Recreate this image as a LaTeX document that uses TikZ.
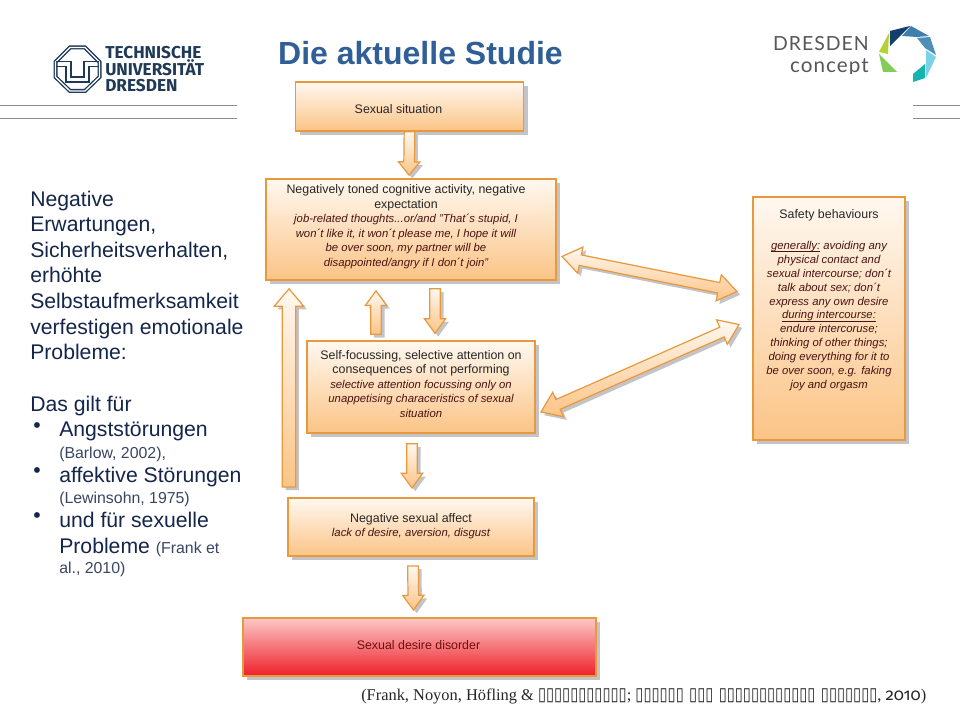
\documentclass[tikz,border=0pt]{standalone}
\usepackage{graphicx}
\usepackage{fontspec}
\setmainfont{Liberation Sans}
\newfontfamily\footserif{Liberation Serif}
\newfontfamily\boxglyph{DejaVu Sans}
\newfontfamily\logofont{Fira Sans}
\newfontfamily\conceptfont[LetterSpace=5]{Lato}
\newfontfamily\oldnum[Numbers=OldStyle]{Fira Sans}
\usetikzlibrary{calc,shadows}
\definecolor{boxtop}{HTML}{FFF8F0}
\definecolor{boxbot}{HTML}{FBC486}
\definecolor{boxedge}{HTML}{E8993E}
\definecolor{shadowgrey}{HTML}{C4C4C8}
\definecolor{titleblue}{HTML}{2F5F96}
\definecolor{navy}{HTML}{14264A}
\definecolor{navysmall}{HTML}{3A4662}
\definecolor{itbrown}{HTML}{4A1212}
\definecolor{tunavy}{HTML}{1E3A58}
\definecolor{redtop}{HTML}{FBC8C8}
\definecolor{redbot}{HTML}{EE2028}
\definecolor{dcA}{HTML}{123F70}
\definecolor{dcB}{HTML}{3F7FAE}
\definecolor{dcC}{HTML}{4D8FB8}
\definecolor{dcD}{HTML}{7CD0E8}
\definecolor{dcE}{HTML}{14B4B0}
\definecolor{dcF}{HTML}{B4D234}
\definecolor{dcG}{HTML}{84CC58}
\tikzset{
  boxnode/.style={draw=boxedge,line width=1.3pt,top color=boxtop,bottom color=boxbot,
    drop shadow={shadow xshift=3pt,shadow yshift=-3pt,fill=shadowgrey,opacity=1},inner sep=0pt,outer sep=0pt},
  redbox/.style={boxnode,top color=redtop,bottom color=redbot},
  boxtext/.style={align=center,inner sep=0pt,text=black!85,font=\fontsize{9.3}{10.9}\selectfont},
  lefttext/.style={align=left,anchor=north west,inner sep=0pt,text=navy,font=\fontsize{15.9}{19.2}\selectfont},
  smalltext/.style={lefttext,text=navysmall,font=\fontsize{11.9}{13}\selectfont},
  arrowbody/.style={draw=boxedge,line width=.9pt,line join=miter,top color=boxtop,bottom color=boxbot},
  arrowshade/.style={fill=shadowgrey,draw=none,transform canvas={xshift=2.4pt,yshift=-2.4pt}},
  rulegrey/.style={draw=black!45,line width=.7pt},
  tuline/.style={draw=tunavy,line width=1pt},
  logotext/.style={anchor=west,align=left,inner sep=0pt,text=tunavy,font=\logofont\bfseries\fontsize{12.9}{11.9}\selectfont},
  dctext/.style={inner sep=0pt,text=black!66,font=\conceptfont\fontsize{14.6}{15}\selectfont},
}
\newcommand{\itx}[1]{{\itshape\color{itbrown}\fontsize{8.5}{10.9}\selectfont #1}}
\newcommand{\glyphrun}[1]{\scalebox{1}[1.25]{\boxglyph\fontsize{11}{12}\selectfont #1}}
% block arrow: start, end, half shaft, half head, head length
\newcommand{\blockarrow}[5]{%
  \coordinate (hd) at ($(#2)!#5!(#1)$);
  \foreach \stylename in {arrowshade,arrowbody}{%
    \path[\stylename] ($(#1)!#3!90:(#2)$) -- ($(hd)!#3!90:(#2)$) -- ($(hd)!#4!90:(#2)$) -- (#2)
      -- ($(hd)!#4!-90:(#2)$) -- ($(hd)!#3!-90:(#2)$) -- ($(#1)!#3!-90:(#2)$) -- cycle;}}
\newcommand{\doublearrow}[5]{%
  \coordinate (hd) at ($(#2)!#5!(#1)$);
  \coordinate (he) at ($(#1)!#5!(#2)$);
  \foreach \stylename in {arrowshade,arrowbody}{%
    \path[\stylename] (#1) -- ($(he)!#4!90:(#2)$) -- ($(he)!#3!90:(#2)$) -- ($(hd)!#3!90:(#2)$) -- ($(hd)!#4!90:(#2)$) -- (#2)
      -- ($(hd)!#4!-90:(#2)$) -- ($(hd)!#3!-90:(#2)$) -- ($(he)!#3!-90:(#2)$) -- ($(he)!#4!-90:(#2)$) -- cycle;}}
\begin{document}
\begin{tikzpicture}[x=.75pt,y=-.75pt]
\useasboundingbox (0,0) rectangle (960,720);
\fill[white] (0,0) rectangle (960,720);

% rules
\draw[rulegrey] (0,105.5) -- (237,105.5);
\draw[rulegrey] (0,118.5) -- (237,118.5);
\draw[rulegrey] (913,105.5) -- (960,105.5);
\draw[rulegrey] (913,118.5) -- (960,118.5);

% TU logo
\draw[tunavy,line width=3pt] (55.5,62) -- (70,47.5) -- (85,47.5) -- (99.5,62) -- (99.5,77) -- (85,91) -- (70,91) -- (55.5,77) -- cycle;
\draw[white,line width=1pt] (55.5,62) -- (70,47.5) -- (85,47.5) -- (99.5,62) -- (99.5,77) -- (85,91) -- (70,91) -- (55.5,77) -- cycle;
\draw[tuline] (56,61.5) -- (71,61.5) -- (71,77) -- (84,77) -- (84,61.5) -- (99,61.5);
\draw[tuline] (56,66.5) -- (66,66.5) -- (66,82) -- (89,82) -- (89,66.5) -- (99,66.5);
\node[logotext] (tu) at (105,69) {TECHNISCHE\\UNIVERSITÄT\\DRESDEN};

% title
\node[inner sep=0pt,text=titleblue,font=\bfseries\fontsize{24}{26}\selectfont] (title) at (420.5,53) {Die aktuelle Studie};

% Dresden concept logo
\node[dctext,anchor=base east] (dc1) at (869,51) {DRESDEN};
\begin{scope}
\clip (780,50) rectangle (880,74);
\node[dctext,anchor=base east,font=\conceptfont\fontsize{15.5}{16}\selectfont] (dc2) at (869,73) {concept};
\end{scope}
\fill[dcA] (890,31) -- (910,26) -- (890,46) -- cycle;
\fill[dcB] (911,26) -- (929,36) -- (917,37) -- (902,36) -- cycle;
\fill[dcC] (917,38) -- (930,37) -- (936,55) -- (925,48) -- cycle;
\fill[dcD] (926,50) -- (936,57) -- (926,78) -- cycle;
\fill[dcE] (925,64) -- (925,78) -- (913,82) -- (913,74) -- cycle;
\fill[dcF] (889,33) -- (879,52) -- (888,54) -- cycle;
\fill[dcG] (879,54) -- (897,72) -- (883,72) -- cycle;

% left text
\node[lefttext] (neg) at (30,190.5) {Negative\\Erwartungen,\\Sicherheitsverhalten,\\erhöhte\\Selbstaufmerksamkeit\\verfestigen emotionale\\Probleme:};
\node[lefttext] (gilt) at (30,396) {Das gilt für};
\node[lefttext] (b1) at (33,422) {•};
\node[lefttext] (i1) at (59,422) {Angststörungen};
\node[smalltext] (s1) at (59,447) {(Barlow, 2002),};
\node[lefttext] (b2) at (33,467) {•};
\node[lefttext] (i2) at (59,467) {affektive Störungen};
\node[smalltext] (s2) at (59,491.5) {(Lewinsohn, 1975)};
\node[lefttext] (b3) at (33,512) {•};
\node[lefttext] (i3) at (59,512) {und für sexuelle\\Probleme {\color{navysmall}\fontsize{11.9}{13}\selectfont(Frank et}};
\node[smalltext] (s3) at (59,561.5) {al., 2010)};

% boxes
\node[boxnode,minimum width=171pt,minimum height=36.5pt] (situation) at (409.5,106.5) {};
\node[boxnode,minimum width=217.5pt,minimum height=75.5pt] (cognitive) at (411,229.5) {};
\node[boxnode,minimum width=171pt,minimum height=68.5pt] (selffocus) at (421,387) {};
\node[boxnode,minimum width=184.5pt,minimum height=43.5pt] (affect) at (411,527) {};
\node[redbox,minimum width=264.5pt,minimum height=43.5pt] (disorder) at (419.5,647) {};
\node[boxnode,minimum width=114pt,minimum height=182pt] (safety) at (829,318.5) {};

% box texts
\node[boxtext] (t1) at ($(situation.center)+(-11,3)$) {Sexual situation};
\node[boxtext] (t2) at ($(cognitive.center)+(-5,-3)$) {Negatively toned cognitive activity, negative\\expectation\\\itx{job-related thoughts...or/and "That´s stupid, I}\\\itx{won´t like it, it won´t please me, I hope it will}\\\itx{be over soon, my partner will be}\\\itx{disappointed/angry if I don´t join"}};
\node[boxtext] (t3) at ($(selffocus.center)+(0,-3)$) {Self-focussing, selective attention on\\consequences of not performing\\\itx{selective attention focussing only on}\\\itx{unappetising characeristics of sexual}\\\itx{situation}};
\node[boxtext] (t4) at ($(affect.center)+(0,-1)$) {Negative sexual affect\\\itx{lack of desire, aversion, disgust}};
\node[boxtext,text=itbrown!80!red] (t5) at ($(disorder.center)+(-1,-2)$) {Sexual desire disorder};
\node[boxtext,anchor=north,font=\fontsize{9.3}{10.4}\selectfont] (t6) at ($(safety.north)+(0,12)$) {Safety behaviours\\[13pt]\itx{\underline{\smash{generally:}} avoiding any}\\\itx{physical contact and}\\\itx{sexual intercourse; don´t}\\\itx{talk about sex; don´t}\\\itx{express any own desire}\\\itx{\underline{\smash{during intercourse:}}}\\\itx{endure intercoruse;}\\\itx{thinking of other things;}\\\itx{doing everything for it to}\\\itx{be over soon, e.g. faking}\\\itx{joy and orgasm}};

% connectors
\coordinate (a1s) at ($(situation.south)+(0,1)$);
\coordinate (a1e) at ($(cognitive.north)+(-2,-4)$);
\blockarrow{a1s}{a1e}{4pt}{8pt}{10pt}
\coordinate (a2s) at ($(selffocus.north)+(-45,-7)$);
\coordinate (a2e) at ($(cognitive.south)+(-35,11)$);
\blockarrow{a2s}{a2e}{4pt}{8pt}{11pt}
\coordinate (a3s) at ($(cognitive.south)+(24,9)$);
\coordinate (a3e) at ($(selffocus.north)+(14,-8)$);
\blockarrow{a3s}{a3e}{4pt}{8pt}{11pt}
\coordinate (a4s) at ($(affect.west)+(1,-40)$);
\coordinate (a4e) at ($(cognitive.south)+(-122,9)$);
\blockarrow{a4s}{a4e}{5pt}{11pt}{13pt}
\coordinate (a5s) at ($(selffocus.south)+(-9,11)$);
\coordinate (a5e) at ($(affect.north)+(1,-10)$);
\blockarrow{a5s}{a5e}{4pt}{8pt}{11pt}
\coordinate (a6s) at ($(affect.south)+(2,10)$);
\coordinate (a6e) at ($(disorder.north)+(-6,-8)$);
\blockarrow{a6s}{a6e}{4pt}{8pt}{11pt}
\coordinate (d1a) at ($(cognitive.east)+(6,27)$);
\coordinate (d1b) at ($(safety.west)+(-16,-27)$);
\doublearrow{d1a}{d1b}{4pt}{10pt}{14pt}
\coordinate (d2a) at ($(selffocus.east)+(6,25)$);
\coordinate (d2b) at ($(safety.west)+(-14,6)$);
\doublearrow{d2a}{d2b}{4pt}{10pt}{14pt}

% citation
\node[anchor=west,inner sep=0pt,text=black!85,font=\footserif\fontsize{12.3}{13}\selectfont] (cite) at (361,696) {(Frank, Noyon, Höfling \& \glyphrun{▯▯▯▯▯▯▯▯▯▯▯}; \glyphrun{▯▯▯▯▯▯}\hspace{4pt}\glyphrun{▯▯▯}\hspace{4pt}\glyphrun{▯▯▯▯▯▯▯▯▯▯▯▯}\hspace{4pt}\glyphrun{▯▯▯▯▯▯▯}, {\oldnum\fontsize{12.5}{13}\selectfont 2010})};
\end{tikzpicture}
\end{document}
